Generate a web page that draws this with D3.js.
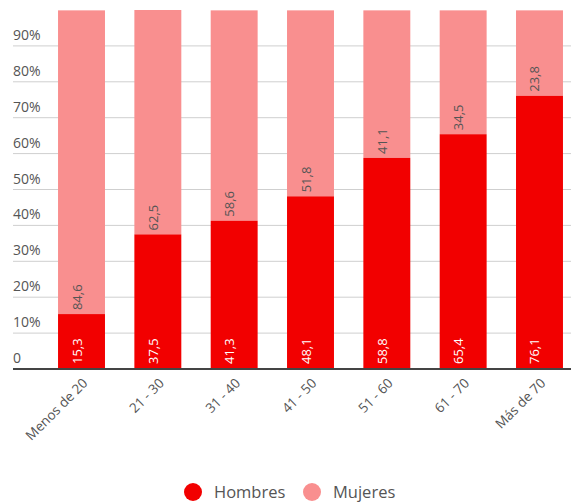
<!DOCTYPE html>
<html>
<head>
<meta charset="utf-8">
<script src="https://cdn.jsdelivr.net/npm/d3@7"></script>
<style>
  html, body { margin: 0; padding: 0; background: #fff; }
  svg { display: block; font-family: "Open Sans", sans-serif; }
</style>
</head>
<body>
<svg id="chart" width="571" height="502"></svg>
<script>
// Age groups and share of each gender (%)
const categories = ["Menos de 20", "21 - 30", "31 - 40", "41 - 50", "51 - 60", "61 - 70", "Más de 70"];
const hombres = [15.3, 37.5, 41.3, 48.1, 58.8, 65.4, 76.1];
const mujeres = [84.6, 62.5, 58.6, 51.8, 41.1, 34.5, 23.8];
const yTicks = [0, 10, 20, 30, 40, 50, 60, 70, 80, 90];
const seriesNames = ["Hombres", "Mujeres"];
const colors = ["#f20000", "#f98f8f"];

const fmt = v => String(v).replace(".", ",");
const svg = d3.select("#chart");

const x = d3.scaleBand()
  .domain(categories)
  .range([13, 608])
  .paddingInner(0.385)
  .paddingOuter(0.59);

const y = d3.scaleLinear().domain([0, 100]).range([369, 10]);

// gridlines + y labels
const grid = svg.append("g");
yTicks.filter(t => t > 0).forEach(t => {
  grid.append("line")
    .attr("x1", 13).attr("x2", 571)
    .attr("y1", y(t)).attr("y2", y(t))
    .attr("stroke", "#cfcfcf").attr("stroke-width", 1);
});
grid.selectAll("text.ytick")
  .data(yTicks)
  .join("text")
  .attr("class", "ytick")
  .attr("x", 13)
  .attr("y", d => y(d) - 6)
  .attr("font-size", 14)
  .attr("fill", "#555")
  .text(d => d === 0 ? "0" : d + "%");

// stacked bars
const rows = categories.map((c, i) => ({ c, h: hombres[i], m: mujeres[i] }));
const bars = svg.append("g");
bars.selectAll("rect.m")
  .data(rows).join("rect")
  .attr("x", d => x(d.c)).attr("width", x.bandwidth())
  .attr("y", d => y(d.h + d.m))
  .attr("height", d => y(d.h) - y(d.h + d.m))
  .attr("fill", colors[1]);
bars.selectAll("rect.h")
  .data(rows).join("rect")
  .attr("x", d => x(d.c)).attr("width", x.bandwidth())
  .attr("y", d => y(d.h))
  .attr("height", d => y(0) - y(d.h))
  .attr("fill", colors[0]);

// value labels, rotated
const cx = d => x(d.c) + x.bandwidth() / 2;
bars.selectAll("text.hl")
  .data(rows).join("text")
  .attr("transform", d => `translate(${cx(d)},${y(0) - 5}) rotate(-90)`)
  .attr("font-size", 13)
  .attr("fill", "#fff")
  .text(d => fmt(d.h));
bars.selectAll("text.ml")
  .data(rows).join("text")
  .attr("transform", d => `translate(${cx(d)},${y(d.h) - 4}) rotate(-90)`)
  .attr("font-size", 13)
  .attr("fill", "#555")
  .text(d => fmt(d.m));

// baseline axis
svg.append("line")
  .attr("x1", 13).attr("x2", 571)
  .attr("y1", y(0)).attr("y2", y(0))
  .attr("stroke", "#444").attr("stroke-width", 2);

// x labels
svg.append("g").selectAll("text")
  .data(categories).join("text")
  .attr("transform", d => `translate(${x(d) + x.bandwidth() / 2 + 7},${y(0) + 15}) rotate(-45)`)
  .attr("text-anchor", "end")
  .attr("font-size", 13.5)
  .attr("fill", "#555")
  .text(d => d);

// legend
const legend = svg.append("g");
const lx = [193, 312];
seriesNames.forEach((name, i) => {
  legend.append("circle")
    .attr("cx", lx[i]).attr("cy", 492).attr("r", 9)
    .attr("fill", colors[i]);
  legend.append("text")
    .attr("x", lx[i] + 21).attr("y", 498)
    .attr("font-size", 16.5)
    .attr("fill", "#555")
    .text(name);
});
</script>
</body>
</html>
